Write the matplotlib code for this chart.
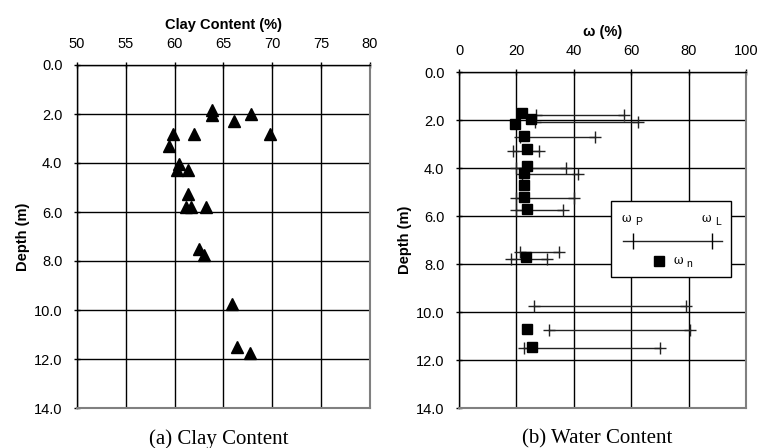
import matplotlib

matplotlib.use("Agg")

import matplotlib.pyplot as plt
from matplotlib.patches import Rectangle


# (a) clay content vs depth
clay_pct = [63.8, 63.8, 67.8, 66.1, 59.8, 62.0, 69.8, 59.4, 60.4, 60.2,
            61.4, 61.4, 61.2, 61.7, 63.2, 62.5, 63.0, 65.9, 66.4, 67.7]
clay_depth = [1.84, 2.04, 2.0, 2.3, 2.8, 2.8, 2.8, 3.3, 4.05, 4.3,
              4.3, 5.27, 5.8, 5.8, 5.8, 7.5, 7.76, 9.77, 11.5, 11.77]

# (b) natural water content
wn_pct = [22.1, 25.0, 19.6, 22.6, 23.7, 23.7, 22.6, 22.6, 22.6, 23.7,
          23.3, 23.7, 25.6]
wn_depth = [1.72, 1.97, 2.18, 2.67, 3.22, 3.92, 4.22, 4.71, 5.22, 5.72,
            7.72, 10.7, 11.45]

# (b) plastic / liquid limits
limit_depth = [1.79, 2.1, 2.72, 3.28, 3.99, 4.25, 5.26, 5.75, 7.49, 7.79,
               9.75, 10.75, 11.51]
wp_pct = [27.0, 26.5, 21.4, 18.8, 20.0, 21.8, 20.0, 20.0, 21.2, 18.2,
          26.0, 31.2, 22.7]
wl_pct = [57.4, 62.3, 47.3, 28.0, 37.3, 41.5, 40.2, 36.4, 35.0, 30.6,
          79.0, 80.5, 70.2]

clay_ticks = [50, 55, 60, 65, 70, 75, 80]
w_ticks = [0, 20, 40, 60, 80, 100]
depth_ticks = [0, 2, 4, 6, 8, 10, 12, 14]

SANS = "Liberation Sans"
SERIF = "Liberation Serif"


def style_axes(ax, xticks, xlabel):
    ax.set_xlim(xticks[0], xticks[-1])
    ax.set_ylim(14, 0)
    ax.set_xticks(xticks)
    ax.set_yticks(depth_ticks)
    ax.set_yticklabels([f"{d:.1f}" for d in depth_ticks])
    ax.xaxis.tick_top()
    ax.xaxis.set_label_position("top")
    ax.tick_params(direction="inout", length=5, width=1, labelsize=10.5,
                   colors="black")
    ax.tick_params(axis="x", pad=7.5)
    ax.tick_params(axis="y", pad=8)
    for lab in ax.get_xticklabels() + ax.get_yticklabels():
        lab.set_fontfamily(SANS)
    ax.grid(True, color="black", linewidth=1.0)
    ax.set_axisbelow(True)
    for side in ["top", "left"]:
        ax.spines[side].set_color("black")
        ax.spines[side].set_linewidth(1.0)
    for side in ["right", "bottom"]:
        ax.spines[side].set_color("#808080")
        ax.spines[side].set_linewidth(1.5)
    ax.set_xlabel(xlabel, fontfamily=SANS, fontweight="bold", fontsize=10.5,
                  labelpad=6)
    ax.set_ylabel("Depth (m)", fontfamily=SANS, fontweight="bold",
                  fontsize=10.5, labelpad=3)


fig = plt.figure(figsize=(7.61, 4.48), dpi=100)

ax1 = fig.add_axes([77 / 761, 1 - 408 / 448, 293 / 761, 343 / 448])
ax2 = fig.add_axes([459 / 761, 1 - 408 / 448, 287 / 761, 336 / 448])

style_axes(ax1, clay_ticks, "Clay Content (%)")
style_axes(ax2, w_ticks, "ω (%)")

ax1.plot(clay_pct, clay_depth, linestyle="none", marker="^",
         markersize=8.5, color="black", clip_on=False, zorder=3)

for d, lo, hi in zip(limit_depth, wp_pct, wl_pct):
    ax2.plot([lo, hi], [d, d], color="#222222", linewidth=1.0,
             marker="+", markersize=8.5, markeredgewidth=1.0, zorder=3)

ax2.plot(wn_pct, wn_depth, linestyle="none", marker="s", markersize=7,
         color="black", zorder=4)

# legend box drawn by hand, like the original
tr = ax2.transAxes
ax2.add_patch(Rectangle((0.528, 0.391), 0.42, 0.226, transform=tr,
                        facecolor="white", edgecolor="black",
                        linewidth=1.0, zorder=5))
ax2.plot([0.572, 0.917], [0.498, 0.498], transform=tr, color="#222222",
         linewidth=1.0, zorder=6)
ax2.plot([0.607, 0.883], [0.498, 0.498], transform=tr, linestyle="none",
         marker="|", markersize=11, markeredgewidth=1.0, color="black",
         zorder=6)
ax2.plot([0.697], [0.438], transform=tr, linestyle="none", marker="s",
         markersize=7, color="black", zorder=6)
for x, sub, y in [(0.567, "P", 0.565), (0.846, "L", 0.565),
                  (0.746, "n", 0.44)]:
    ax2.text(x, y, "ω", transform=tr, fontfamily="DejaVu Serif",
             fontsize=8.5, va="center", ha="left", zorder=7)
    ax2.text(x + 0.045, y - 0.012, sub, transform=tr, fontfamily=SANS,
             fontsize=7.5, va="center", ha="left", zorder=7)

fig.text(219 / 761, 1 - 439 / 448, "(a) Clay Content", fontfamily=SERIF,
         fontsize=15, ha="center", va="center")
fig.text(597 / 761, 1 - 439 / 448, "(b) Water Content", fontfamily=SERIF,
         fontsize=15, ha="center", va="center")

fig.savefig("out.png", dpi=100)
